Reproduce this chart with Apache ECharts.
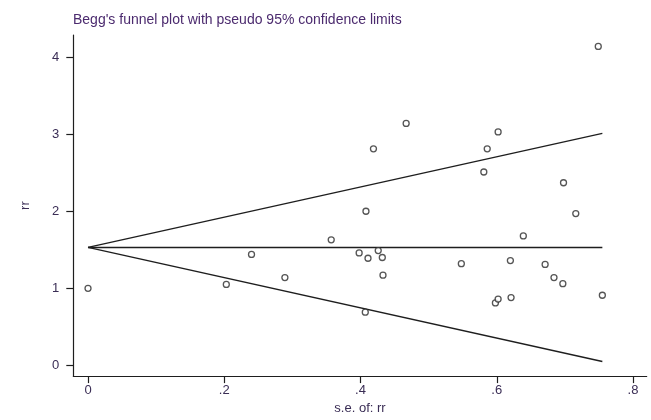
<!DOCTYPE html>
<html>
<head>
<meta charset="utf-8">
<script src="https://cdn.jsdelivr.net/npm/echarts@6/dist/echarts.min.js"></script>
<style>
html,body{margin:0;padding:0;background:#fff;}
#chart{width:651px;height:420px;}
</style>
</head>
<body>
<div id="chart"></div>
<script>
// Data
const seValues = [0.000, 0.203, 0.240, 0.289, 0.357, 0.398, 0.408, 0.411, 0.407, 0.419,
                  0.426, 0.432, 0.433, 0.467, 0.548, 0.581, 0.586, 0.602, 0.598, 0.602,
                  0.620, 0.621, 0.639, 0.671, 0.684, 0.697, 0.698, 0.716, 0.749, 0.755];
const rrValues = [1.00, 1.05, 1.44, 1.14, 1.63, 1.46, 2.00, 1.39, 0.69, 2.81,
                  1.49, 1.40, 1.17, 3.14, 1.32, 2.51, 2.81, 3.03, 0.81, 0.86,
                  1.36, 0.88, 1.68, 1.31, 1.14, 1.06, 2.37, 1.97, 4.14, 0.91];
const pooledRR = [1.53];
const zCrit = [1.96];
const xTicks = [0, 0.2, 0.4, 0.6, 0.8];
const xTickLabels = ['0', '.2', '.4', '.6', '.8'];
const yTicks = [0, 1, 2, 3, 4];
const yTickLabels = ['0', '1', '2', '3', '4'];
const titleText = "Begg's funnel plot with pseudo 95% confidence limits";
const xTitle = 's.e. of: rr';
const yTitle = 'rr';

const points = seValues.map((s, i) => [s, rrValues[i]]);
const seMax = Math.max(...seValues);
const theta = pooledRR[0], z = zCrit[0];
const upper = [[0, theta], [seMax, theta + z * seMax]];
const lower = [[0, theta], [seMax, theta - z * seMax]];
const center = [[0, theta], [seMax, theta]];

const textColor = '#3a2d55';
const lineColor = '#1e1e1e';
const font = 'Liberation Sans, Arial, sans-serif';

const chart = echarts.init(document.getElementById('chart'), null, {renderer: 'canvas'});
const lineSeries = (d) => ({
  type: 'line', data: d, symbol: 'none', silent: true, z: 2,
  lineStyle: {color: lineColor, width: 1.3}
});
chart.setOption({
  animation: false,
  backgroundColor: '#ffffff',
  title: {
    text: titleText, left: 68, top: 8,
    textStyle: {fontFamily: font, fontSize: 14, fontWeight: 'normal', color: '#4b2a6e'}
  },
  grid: {left: 73.3, top: 35, right: 4.3, bottom: 35.7, containLabel: false},
  xAxis: {
    type: 'value', min: -0.0216, max: 0.8201,
    name: xTitle, nameLocation: 'middle', nameGap: 19,
    nameTextStyle: {fontFamily: font, fontSize: 13, color: textColor, verticalAlign: 'top'},
    axisLine: {show: true, onZero: false, lineStyle: {color: lineColor, width: 1.2}},
    axisTick: {show: true, customValues: xTicks, length: 7, lineStyle: {color: lineColor, width: 1.2}},
    axisLabel: {
      customValues: xTicks, margin: 8, fontFamily: font, fontSize: 13, color: textColor,
      formatter: (v) => xTickLabels[xTicks.findIndex(t => Math.abs(t - v) < 1e-9)]
    },
    splitLine: {show: false}
  },
  yAxis: {
    type: 'value', min: -0.1394, max: 4.288,
    name: yTitle, nameLocation: 'middle', nameGap: 41, nameRotate: 90,
    nameTextStyle: {fontFamily: font, fontSize: 13, color: textColor},
    axisLine: {show: true, onZero: false, lineStyle: {color: lineColor, width: 1.2}},
    axisTick: {show: true, customValues: yTicks, length: 7, lineStyle: {color: lineColor, width: 1.2}},
    axisLabel: {
      customValues: yTicks, margin: 14, fontFamily: font, fontSize: 13, color: textColor,
      formatter: (v) => yTickLabels[yTicks.findIndex(t => Math.abs(t - v) < 1e-9)]
    },
    splitLine: {show: false}
  },
  series: [
    lineSeries(upper),
    lineSeries(center),
    lineSeries(lower),
    {
      type: 'scatter', data: points, symbol: 'circle', symbolSize: 6, z: 3,
      itemStyle: {color: '#ffffff', borderColor: '#2a2a2a', borderWidth: 1.3}
    }
  ]
});
</script>
</body>
</html>
